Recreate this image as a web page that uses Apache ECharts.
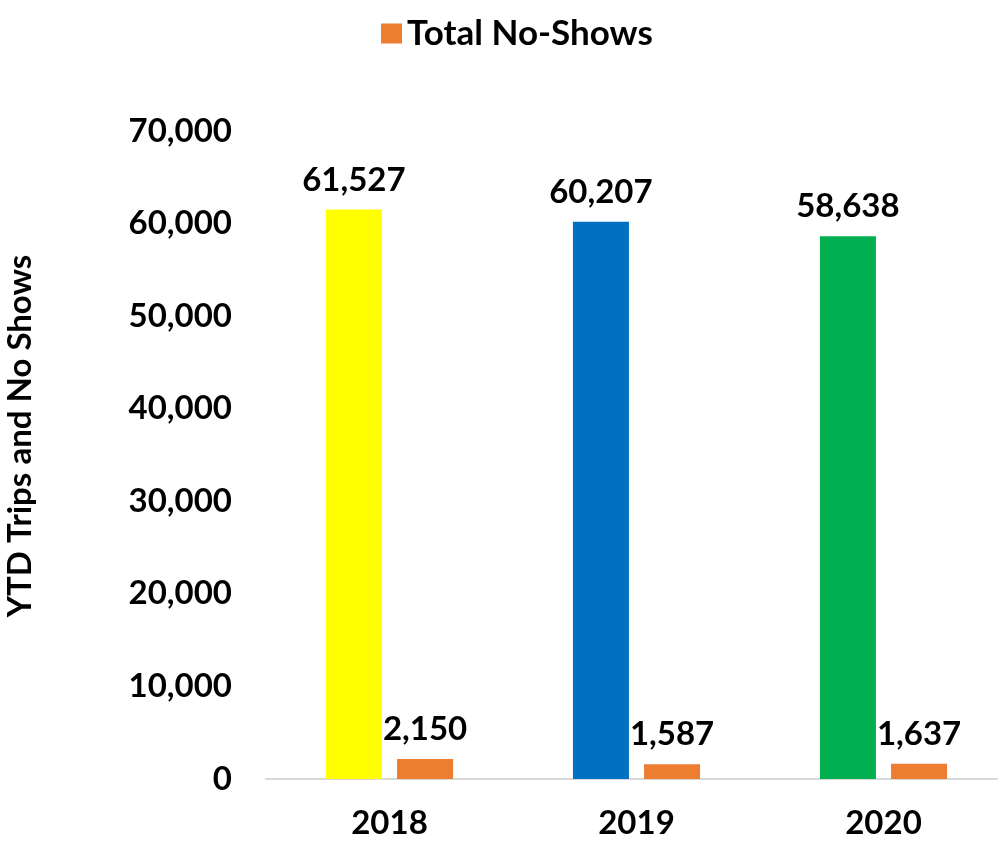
<!DOCTYPE html>
<html>
<head>
<meta charset="utf-8">
<script src="https://cdn.jsdelivr.net/npm/echarts@6/dist/echarts.min.js"></script>
<style>
  html, body { margin: 0; padding: 0; background: #ffffff; }
  #chart { width: 998px; height: 844px; }
</style>
</head>
<body>
<div id="chart"></div>
<script>
// Yearly trips and no-shows
const years = ['2018', '2019', '2020'];
const tripTotals = [61527, 60207, 58638];
const noShowTotals = [2150, 1587, 1637];
const tripColors = ['#FFFF00', '#0070C0', '#00B050'];
const noShowColor = '#ED7D31';
const yTicks = { min: 0, max: 70000, interval: 10000 };

const FONT = 'Lato, "Noto Sans", sans-serif';
const fmt = v => Number(v).toLocaleString('en-US');

const chart = echarts.init(document.getElementById('chart'), null, { renderer: 'canvas' });

chart.setOption({
  backgroundColor: '#ffffff',
  animation: false,
  legend: {
    data: ['Total No-Shows'],
    left: 376,
    top: 11,
    itemWidth: 21,
    itemHeight: 20,
    icon: 'rect',
    textStyle: { fontFamily: FONT, fontWeight: 'bold', fontSize: 35, color: '#000' }
  },
  grid: { left: 266, width: 741, top: 131, bottom: 65, containLabel: false, outerBoundsMode: 'none' },
  xAxis: {
    type: 'category',
    data: years,
    axisLine: { show: true, lineStyle: { color: '#D9D9D9', width: 2 } },
    axisTick: { show: false },
    axisLabel: { margin: 28, fontFamily: FONT, fontWeight: 'bold', fontSize: 33, color: '#000' }
  },
  yAxis: {
    type: 'value',
    min: yTicks.min,
    max: yTicks.max,
    interval: yTicks.interval,
    name: 'YTD Trips and No Shows',
    nameLocation: 'middle',
    nameGap: 229,
    nameRotate: 90,
    nameTextStyle: { fontFamily: FONT, fontWeight: 'bold', fontSize: 33, color: '#000', padding: [0, 0, 0, 38] },
    axisLine: { show: false },
    axisTick: { show: false },
    splitLine: { show: false },
    axisLabel: { margin: 34, fontFamily: FONT, fontWeight: 'bold', fontSize: 33, color: '#000', formatter: fmt }
  },
  series: [
    {
      name: 'YTD Trips',
      type: 'bar',
      barWidth: 56,
      barGap: '27%',
      data: tripTotals.map((v, i) => ({ value: v, itemStyle: { color: tripColors[i] } })),
      label: {
        show: true, position: 'top', distance: 13,
        fontFamily: FONT, fontWeight: 'bold', fontSize: 33, color: '#000',
        formatter: p => fmt(p.value)
      }
    },
    {
      name: 'Total No-Shows',
      type: 'bar',
      barWidth: 56,
      itemStyle: { color: noShowColor },
      data: noShowTotals,
      label: {
        show: true, position: 'top', distance: 13,
        fontFamily: FONT, fontWeight: 'bold', fontSize: 33, color: '#000',
        formatter: p => fmt(p.value)
      }
    }
  ]
});
</script>
</body>
</html>
